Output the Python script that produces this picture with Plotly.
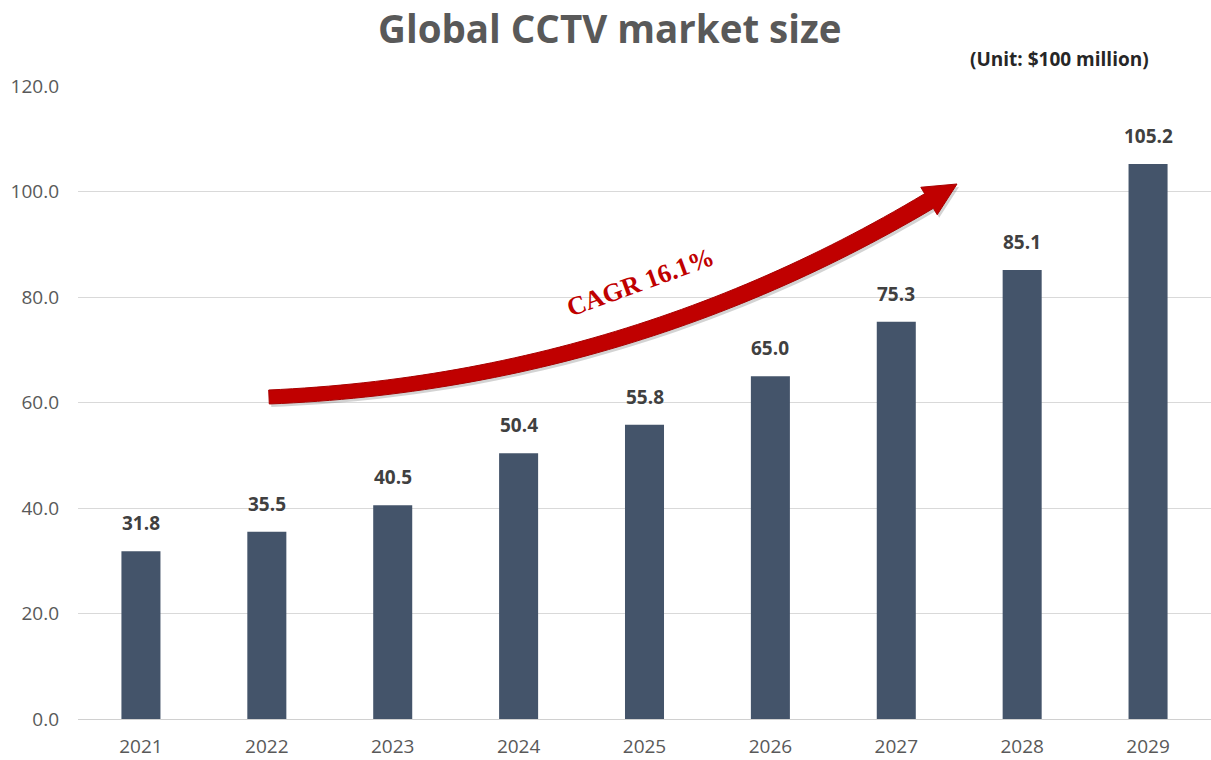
import numpy as np
import plotly.graph_objects as go

years = ["2021", "2022", "2023", "2024", "2025", "2026", "2027", "2028", "2029"]
market_size = [31.8, 35.5, 40.5, 50.4, 55.8, 65.0, 75.3, 85.1, 105.2]
y_ticks = [0, 20, 40, 60, 80, 100, 120]
title_text = "Global CCTV market size"
unit_text = "(Unit: $100 million)"
cagr_text = "CAGR 16.1%"

W, H = 1211, 760
ML, MR, MT, MB = 78, 0, 86, 41
PW, PH = W - ML - MR, H - MT - MB

fig = go.Figure()
fig.add_trace(go.Bar(
    x=years, y=market_size,
    marker=dict(color="#44546A", line=dict(width=0)),
    width=0.31,
    hoverinfo="x+y",
))

for i, v in enumerate(market_size):
    fig.add_annotation(x=i, y=v, xref="x", yref="y", text=f"<b>{v:.1f}</b>",
                       showarrow=False, yanchor="bottom", yshift=13,
                       font=dict(family="Open Sans", size=19, color="#404040"))

# decorative curved arrow (pixel geometry -> paper coords)
def to_paper(px, py):
    return (px - ML) / PW, (H - MB - py) / PH

P0 = np.array([269.0, 397.0])
P1 = np.array([625.0, 382.0])
P2 = np.array([929.0, 201.0])
tip = np.array([957.0, 184.0])
t = np.linspace(0, 1, 60)
pts = ((1 - t)[:, None] ** 2) * P0 + (2 * (1 - t) * t)[:, None] * P1 + (t[:, None] ** 2) * P2
der = (2 * (1 - t))[:, None] * (P1 - P0) + (2 * t)[:, None] * (P2 - P1)
nrm = np.stack([-der[:, 1], der[:, 0]], axis=1)
nrm /= np.linalg.norm(nrm, axis=1)[:, None]
hw = np.linspace(7.0, 8.5, len(t))[:, None]
upper = pts + nrm * hw
lower = pts - nrm * hw
n_end = nrm[-1]
head_l = P2 + n_end * 16
head_r = P2 - n_end * 16
poly = list(upper) + [head_l, tip, head_r] + list(lower[::-1])

def poly_path(points, dx=0.0, dy=0.0):
    s = ""
    for i, (px, py) in enumerate(points):
        x, y = to_paper(px + dx, py + dy)
        s += ("M" if i == 0 else "L") + f"{x:.5f},{y:.5f} "
    return s + "Z"

fig.add_shape(type="path", path=poly_path(poly, 2, 3), xref="paper", yref="paper",
              fillcolor="rgba(80,80,80,0.25)", line=dict(width=0), layer="above")
fig.add_shape(type="path", path=poly_path(poly), xref="paper", yref="paper",
              fillcolor="#C00000", line=dict(color="#A80000", width=1), layer="above")

cx, cy = to_paper(640, 282)
fig.add_annotation(text=f"<b>{cagr_text}</b>", x=cx, y=cy, xref="paper", yref="paper",
                   xanchor="center", yanchor="middle",
                   showarrow=False, textangle=-20,
                   font=dict(family="Liberation Serif", size=26, color="#C00000"))

tx, ty = to_paper(610, 28)
fig.add_annotation(text=f"<b>{title_text}</b>", x=tx, y=ty, xref="paper",
                   yref="paper", xanchor="center", yanchor="middle", showarrow=False,
                   font=dict(family="Open Sans", size=38.5, color="#595959"))
ux, uy = to_paper(1151, 59)
fig.add_annotation(text=f"<b>{unit_text}</b>", x=ux, y=uy, xref="paper", yref="paper",
                   xanchor="right", yanchor="middle", showarrow=False,
                   font=dict(family="Open Sans", size=19, color="#262626"))

fig.update_layout(
    width=W, height=H,
    margin=dict(l=ML, r=MR, t=MT, b=MB),
    paper_bgcolor="white", plot_bgcolor="white",
    showlegend=False,
    bargap=0.69,
    xaxis=dict(type="category", range=[-0.5, len(years) - 0.5],
               showgrid=False, showline=False, ticks="",
               ticklabelstandoff=14,
               tickfont=dict(family="Open Sans", size=19, color="#595959")),
    yaxis=dict(range=[0, 120], tickvals=y_ticks, ticktext=[f"{v:.1f}" for v in y_ticks],
               showgrid=True, gridcolor="#D9D9D9", gridwidth=1,
               zeroline=True, zerolinecolor="#D0D0D0", zerolinewidth=1,
               ticks="", ticklabelstandoff=18,
               tickfont=dict(family="Open Sans", size=19, color="#595959")),
)

fig.write_html("out.html")
